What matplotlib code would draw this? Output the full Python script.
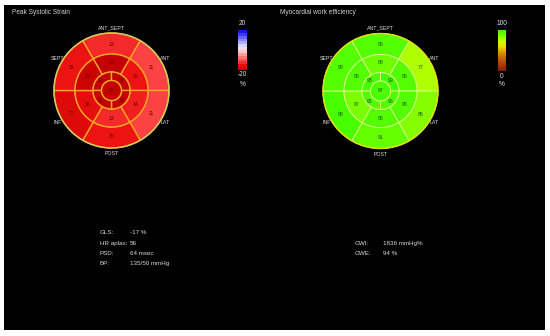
import numpy as np
import matplotlib
matplotlib.use("Agg")
from matplotlib import pyplot as plt
from matplotlib.patches import Wedge, Circle, Rectangle
from matplotlib.colors import LinearSegmentedColormap, Normalize
import matplotlib.colorbar as mcb

plt.rcParams['font.family'] = ['Liberation Sans', 'DejaVu Sans']

# segment order for basal / mid rings
ring6_names = ['ANT_SEPT', 'ANT', 'LAT', 'POST', 'INF', 'SEPT']
# apical ring order: upper-left, upper-right, lower-right, lower-left
apical_names = ['UL', 'UR', 'LR', 'LL']

# Peak systolic strain (%)
strain_basal = [-13, -11, -11, -15, -17, -15]
strain_mid = [-22, -15, -14, -13, -16, -19]
strain_apical = [-20, -21, -23, -21]
strain_apex = -22

# Myocardial work efficiency (%)
mwe_basal = [95, 77, 85, 91, 98, 95]
mwe_mid = [89, 95, 95, 95, 87, 95]
mwe_apical = [98, 99, 96, 95]
mwe_apex = 97

left_info_labels = ['GLS:', 'HR aplax:', 'PSD:', 'BP:']
left_info_values = ['-17 %', '56', '64 msec', '135/50 mmHg']
right_info_labels = ['GWI:', 'GWE:']
right_info_values = ['1836 mmHg%', '94 %']

strain_cmap = LinearSegmentedColormap.from_list('strain', [
    (0.0, '#c40000'), (0.12, '#ec1010'), (0.25, '#ff5050'),
    (0.4, '#ffa0a0'), (0.5, '#ffe0e0'), (0.6, '#d8d8ff'),
    (0.8, '#7070ff'), (1.0, '#0000f0')])
strain_norm = Normalize(-20, 20)

mwe_cmap = LinearSegmentedColormap.from_list('mwe', [
    (0.0, '#8a1a00'), (0.25, '#c05000'), (0.45, '#e09000'),
    (0.6, '#e8e000'), (0.72, '#c8ff00'), (0.8, '#a4ff00'),
    (0.9, '#68ff00'), (1.0, '#40ff00')])
mwe_norm = Normalize(0, 100)

R_APEX, R_APICAL, R_MID, R_BASAL = 10, 18.5, 36.5, 57.5
ring6_centers = [90, 30, -30, -90, -150, 150]
apical_centers = [135, 45, -45, -135]


def bullseye(ax, cx, cy, basal, mid, apical, apex, cmap, norm,
             line_color, line_width, edge_color, text_color, fmt):
    def wedge(r_out, r_in, a_mid, half, val):
        # y axis is inverted, so visual angles are mirrored
        w = Wedge((cx, cy), r_out, -(a_mid + half), -(a_mid - half),
                  width=r_out - r_in, facecolor=cmap(norm(val)),
                  edgecolor=line_color, lw=line_width)
        ax.add_patch(w)

    def label(r, a, val):
        ax.text(cx + r * np.cos(np.radians(a)), cy - r * np.sin(np.radians(a)),
                fmt(val), color=text_color, fontsize=3.7,
                ha='center', va='center')

    for a, v in zip(ring6_centers, basal):
        wedge(R_BASAL, R_MID, a, 30, v)
        label((R_BASAL + R_MID) / 2 - 0.5, a, v)
    for a, v in zip(ring6_centers, mid):
        wedge(R_MID, R_APICAL, a, 30, v)
        label((R_MID + R_APICAL) / 2 + 0.5, a, v)
    for a, v in zip(apical_centers, apical):
        wedge(R_APICAL, R_APEX, a, 45, v)
        label((R_APICAL + R_APEX) / 2 + 0.5, a, v)
    ax.add_patch(Circle((cx, cy), R_APEX, facecolor=cmap(norm(apex)),
                        edgecolor=line_color, lw=line_width))
    label(0, 0, apex)
    ax.add_patch(Circle((cx, cy), R_BASAL, facecolor='none',
                        edgecolor=edge_color, lw=1.0))

    # wall names around the plot
    names = [('ANT_SEPT', 0, -63), ('ANT', 54, -32), ('LAT', 54, 32),
             ('POST', 0, 63), ('INF', -54, 32), ('SEPT', -54, -32)]
    for n, dx, dy in names:
        ax.text(cx + dx, cy + dy, n, color='#d8d8d8', fontsize=3.8,
                ha='center', va='center')


fig = plt.figure(figsize=(5.5, 3.36), dpi=100, facecolor='white')
ax = fig.add_axes([0, 0, 1, 1])
ax.set_xlim(0, 550)
ax.set_ylim(336, 0)
ax.axis('off')
ax.add_patch(Rectangle((4, 5), 541, 325, facecolor='black', edgecolor='none'))

ax.text(12, 13, 'Peak Systolic Strain', color='#d0d0d0', fontsize=4.7,
        ha='left', va='center')
ax.text(280, 13, 'Myocardial work efficiency', color='#d0d0d0', fontsize=4.7,
        ha='left', va='center')

bullseye(ax, 111.5, 90.5, strain_basal, strain_mid, strain_apical, strain_apex,
         strain_cmap, strain_norm, '#f5a623', 1.0, '#c8d060', '#700000',
         lambda v: str(abs(v)))
bullseye(ax, 380.5, 91, mwe_basal, mwe_mid, mwe_apical, mwe_apex,
         mwe_cmap, mwe_norm, '#d4ff80', 0.7, '#e0e000', '#1a5000',
         lambda v: str(v))

# colour bars
cax1 = fig.add_axes([238 / 550, 1 - 70 / 336, 9 / 550, 40 / 336])
cb1 = mcb.ColorbarBase(cax1, cmap=strain_cmap, norm=strain_norm,
                       boundaries=np.linspace(-20, 20, 15))
cb1.outline.set_visible(False)
cax1.set_axis_off()
ax.text(242.5, 23.5, '20', color='#e0e0e0', fontsize=4.7, ha='center', va='center')
ax.text(242.5, 75, '-20', color='#e0e0e0', fontsize=4.7, ha='center', va='center')
ax.text(242.5, 84, '%', color='#e0e0e0', fontsize=4.7, ha='center', va='center')

cax2 = fig.add_axes([498 / 550, 1 - 71 / 336, 8 / 550, 41 / 336])
cb2 = mcb.ColorbarBase(cax2, cmap=mwe_cmap, norm=mwe_norm)
cb2.outline.set_visible(False)
cax2.set_axis_off()
ax.text(502, 23.5, '100', color='#e0e0e0', fontsize=4.7, ha='center', va='center')
ax.text(502, 76, '0', color='#e0e0e0', fontsize=4.7, ha='center', va='center')
ax.text(502, 84, '%', color='#e0e0e0', fontsize=4.7, ha='center', va='center')

# summary text
for i, (lab, val) in enumerate(zip(left_info_labels, left_info_values)):
    y = 233 + i * 10.3
    ax.text(100, y, lab, color='#d8d8d8', fontsize=4.5, ha='left', va='center')
    ax.text(130, y, val, color='#d8d8d8', fontsize=4.5, ha='left', va='center')
for i, (lab, val) in enumerate(zip(right_info_labels, right_info_values)):
    y = 243.3 + i * 10.3
    ax.text(355, y, lab, color='#d8d8d8', fontsize=4.5, ha='left', va='center')
    ax.text(383, y, val, color='#d8d8d8', fontsize=4.5, ha='left', va='center')

fig.savefig('out.png', dpi=100, facecolor='white')
